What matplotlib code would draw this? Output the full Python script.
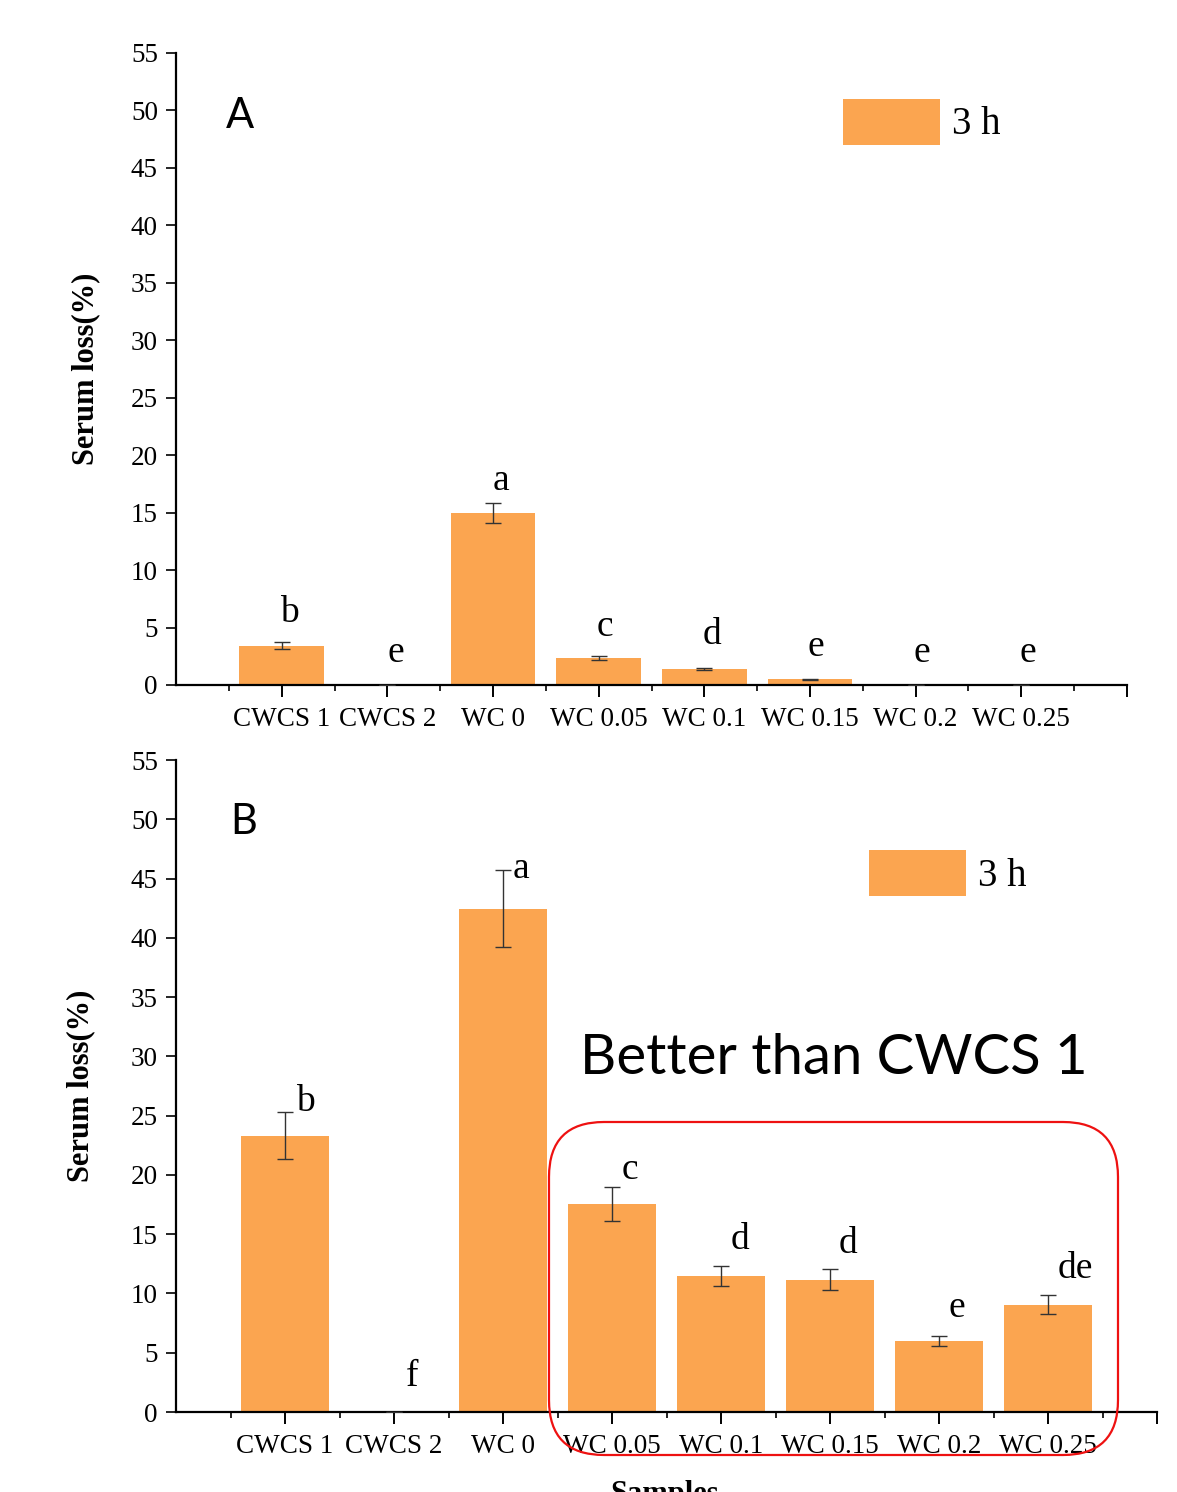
import matplotlib
matplotlib.use("Agg")
from matplotlib import pyplot as plt
from matplotlib.patches import FancyBboxPatch
from matplotlib.transforms import IdentityTransform

samples = ['CWCS 1', 'CWCS 2', 'WC 0', 'WC 0.05', 'WC 0.1', 'WC 0.15', 'WC 0.2', 'WC 0.25']

# panel A
loss_a = [3.4, 0.0, 15.0, 2.35, 1.38, 0.5, 0.0, 0.0]
err_a = [0.3, 0.0, 0.87, 0.15, 0.08, 0.05, 0.0, 0.0]
letters_a = ['b', 'e', 'a', 'c', 'd', 'e', 'e', 'e']

# panel B
loss_b = [23.3, 0.0, 42.45, 17.55, 11.5, 11.15, 6.0, 9.05]
err_b = [2.0, 0.0, 3.25, 1.43, 0.85, 0.9, 0.45, 0.8]
letters_b = ['b', 'f', 'a', 'c', 'd', 'd', 'e', 'de']

legend_label = '3 h'
bar_color = '#FBA550'

# letter offsets in pixels (dx, dy) from the top of the error bar
dx_a = [8, 8, 8, 6, 8, 6, 6, 6]
dy_a = [30, 32, 22, 30, 33, 32, 32, 32]
dx_b = [20, 18, 18, 18, 19, 18, 18, 27]
dy_b = [10, 35, 1, 17, 26, 25, 28, 26]

plt.rcParams['font.family'] = ['Liberation Serif', 'DejaVu Serif']

fig = plt.figure(figsize=(11.77, 14.92), dpi=100)
W, H = 1177, 1492


def px_axes(left, right, top, bottom):
    return fig.add_axes([left / W, 1 - bottom / H, (right - left) / W, (bottom - top) / H])


def draw_panel(ax, vals, errs, letters, dxs, dys, tag, leg_anchor, tag_pos, ylab_x):
    xs = list(range(1, len(samples) + 1))
    bars = ax.bar(xs, vals, width=0.8, color=bar_color, label=legend_label, zorder=2)
    ax.errorbar(xs, vals, yerr=errs, fmt='none', ecolor='#333333', elinewidth=1.0,
                capsize=6, capthick=1.0, zorder=3)
    for x, v, e, s, dx, dy in zip(xs, vals, errs, letters, dxs, dys):
        ax.annotate(s, (x, v + e), xytext=(dx, dy), textcoords='offset pixels',
                    ha='center', va='center', fontsize=27)
    ax.set_xlim(0, 9)
    ax.set_ylim(0, 55)
    ax.set_yticks(range(0, 56, 5))
    ax.set_xticks(list(range(1, 10)))
    ax.set_xticklabels(samples + [''])
    ax.set_xticks([i + 0.5 for i in range(0, 9)], minor=True)
    for sp in ['top', 'right']:
        ax.spines[sp].set_visible(False)
    for sp in ['left', 'bottom']:
        ax.spines[sp].set_linewidth(1.6)
    ax.tick_params(axis='y', which='major', length=7, width=1.2, labelsize=19.5, pad=6)
    ax.tick_params(axis='x', which='major', length=8.5, width=1.4, labelsize=19.5, pad=7)
    ax.tick_params(axis='x', which='minor', length=4, width=1.2)
    ax.set_ylabel('Serum loss(%)', fontsize=22, fontweight='bold')
    ax.yaxis.set_label_coords(ylab_x, 0.5)
    ax.text(tag_pos[0], tag_pos[1], tag, transform=ax.transAxes, fontsize=30,
            family=['Lato', 'DejaVu Sans'], ha='left', va='center')
    ax.legend(handles=[bars], loc='upper left', bbox_to_anchor=leg_anchor, frameon=False,
              fontsize=28, handlelength=2.5, handleheight=1.45, handletextpad=0.3,
              borderpad=0, borderaxespad=0)


ax_a = px_axes(176, 1127, 53, 685)
draw_panel(ax_a, loss_a, err_a, letters_a, dx_a, dy_a, 'A', (0.701, 0.928), (0.052, 0.900), -0.08)

ax_b = px_axes(176, 1157, 760, 1412)
draw_panel(ax_b, loss_b, err_b, letters_b, dx_b, dy_b, 'B', (0.7064, 0.862), (0.055, 0.905), -0.082)

fig.text(580 / W, 1 - 1058 / H, 'Better than CWCS 1', fontsize=40.5,
         family=['Lato', 'DejaVu Sans'], ha='left', va='center')

# red rounded box (pixel coordinates, origin bottom-left)
box = FancyBboxPatch((549, H - 1455), 1118 - 549, 1455 - 1122,
                     boxstyle='round,pad=0,rounding_size=55', transform=IdentityTransform(),
                     fill=False, edgecolor='#EE1111', linewidth=1.6, zorder=10)
fig.patches.append(box)

fig.text(665 / W, 1 - 1480 / H, 'Samples', fontsize=22, fontweight='bold',
         ha='center', va='top')

fig.savefig('out.png', dpi=100)
